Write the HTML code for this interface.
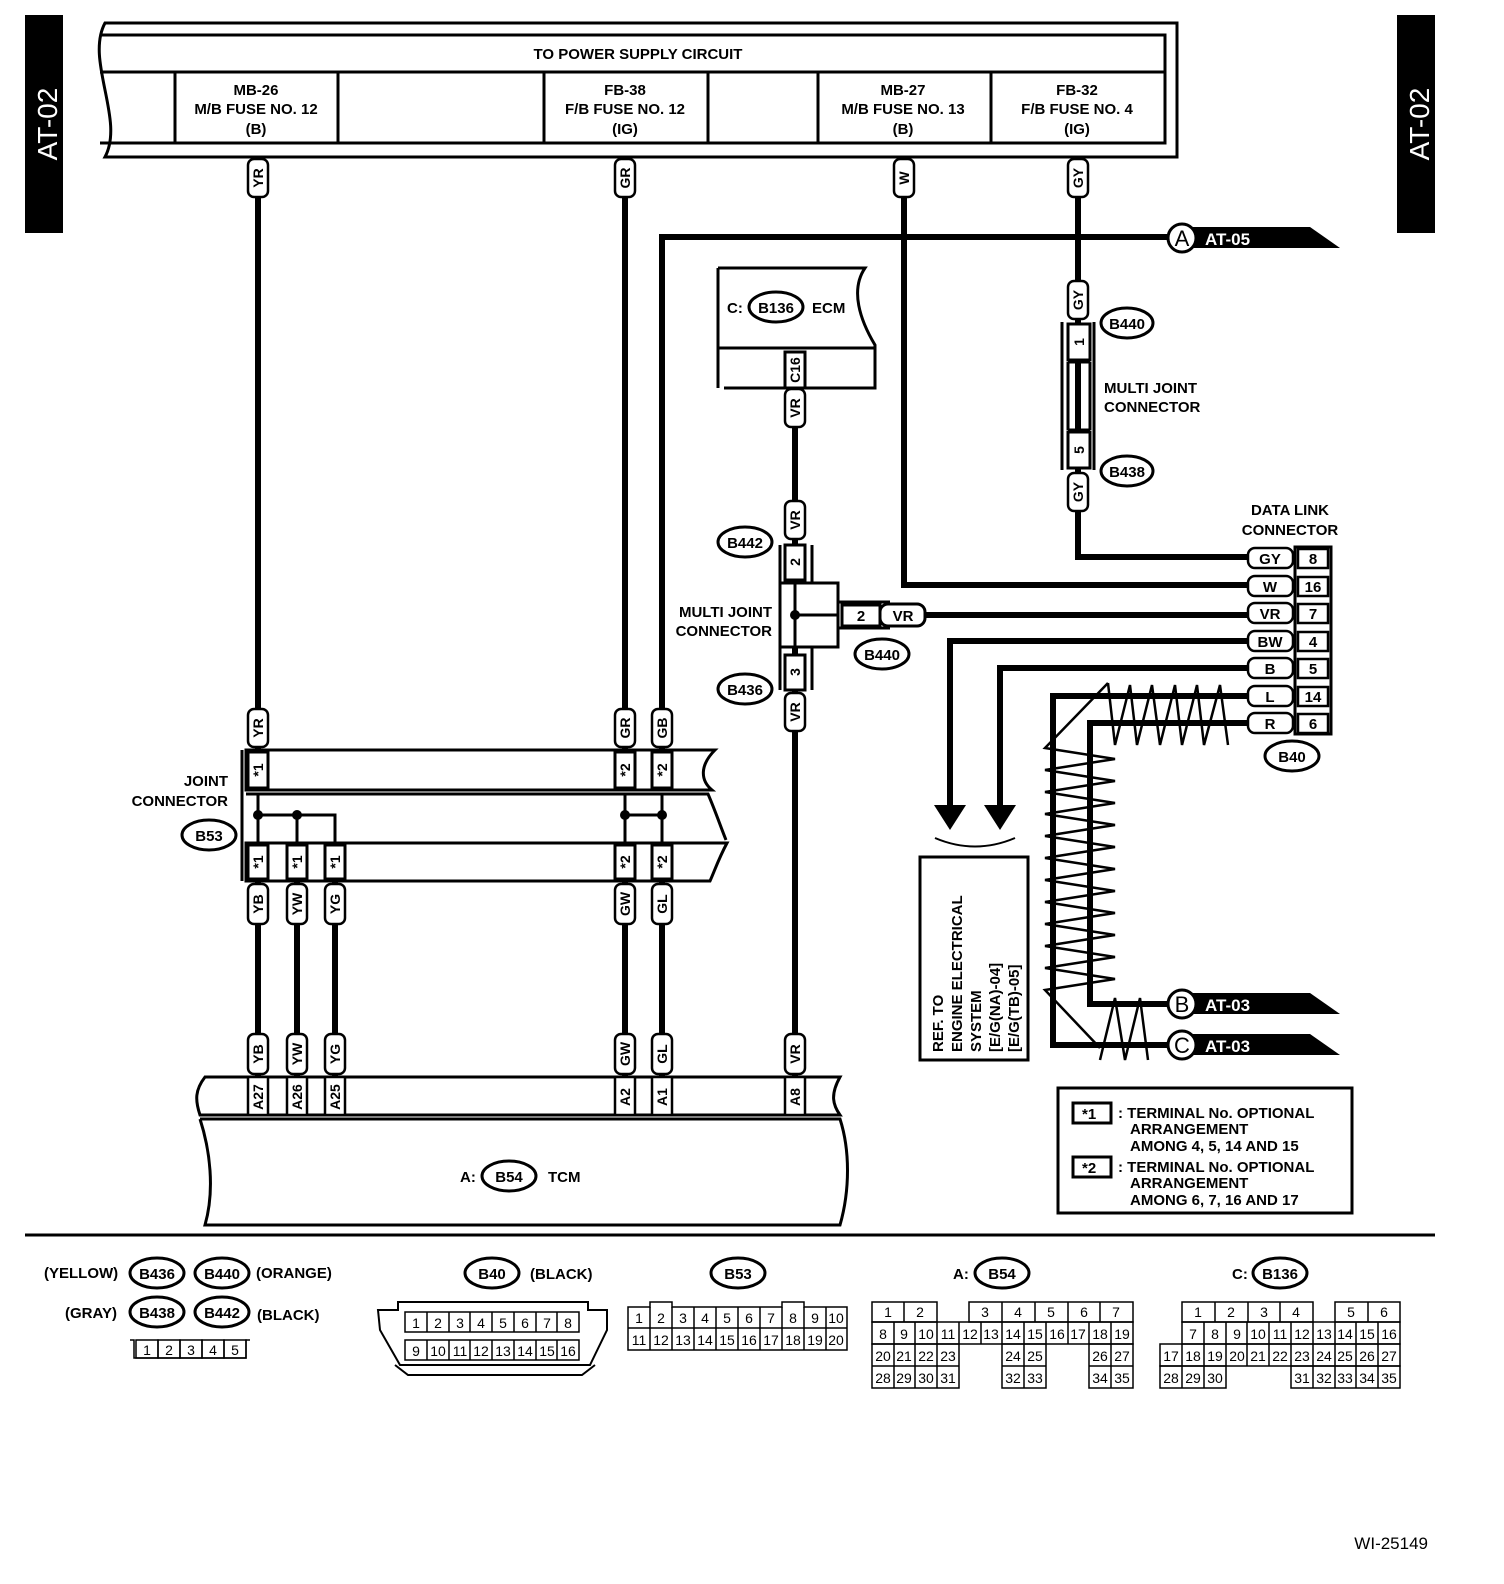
<!DOCTYPE html>
<html><head><meta charset="utf-8">
<style>
html,body{margin:0;padding:0;background:#fff;overflow:hidden;width:1504px;height:1584px;}
svg{display:block;font-family:"Liberation Sans",Arial,sans-serif;font-weight:bold;}
</style></head>
<body>
<svg width="1504" height="1584" viewBox="0 0 1504 1584" xmlns="http://www.w3.org/2000/svg">
<rect width="1504" height="1584" fill="#fff"/>

<!-- side tabs -->
<rect x="25" y="15" width="38" height="218" fill="#000"/>
<text transform="translate(57,124) rotate(-90)" text-anchor="middle" font-size="28" fill="#fff" font-weight="normal">AT-02</text>
<rect x="1397" y="15" width="38" height="218" fill="#000"/>
<text transform="translate(1429,124) rotate(-90)" text-anchor="middle" font-size="28" fill="#fff" font-weight="normal">AT-02</text>

<!-- power supply box -->
<g fill="none" stroke="#000" stroke-width="3">
<path d="M105,23 L1177,23 L1177,157 L105,157 C125,120 85,60 105,23 Z"/>
<path d="M100,35 L1165,35 L1165,143 L100,143"/>
<line x1="100" y1="72" x2="1165" y2="72"/>
<line x1="175" y1="72" x2="175" y2="143"/>
<line x1="338" y1="72" x2="338" y2="143"/>
<line x1="544" y1="72" x2="544" y2="143"/>
<line x1="708" y1="72" x2="708" y2="143"/>
<line x1="818" y1="72" x2="818" y2="143"/>
<line x1="991" y1="72" x2="991" y2="143"/>
</g>
<g font-size="15" text-anchor="middle">
<text x="638" y="59">TO POWER SUPPLY CIRCUIT</text>
<text x="256" y="95">MB-26</text><text x="256" y="114">M/B FUSE NO. 12</text><text x="256" y="134">(B)</text>
<text x="625" y="95">FB-38</text><text x="625" y="114">F/B FUSE NO. 12</text><text x="625" y="134">(IG)</text>
<text x="903" y="95">MB-27</text><text x="903" y="114">M/B FUSE NO. 13</text><text x="903" y="134">(B)</text>
<text x="1077" y="95">FB-32</text><text x="1077" y="114">F/B FUSE NO. 4</text><text x="1077" y="134">(IG)</text>
</g>

<!-- wires -->
<g stroke="#000" stroke-width="6" fill="none">
<line x1="258" y1="157" x2="258" y2="750"/>
<line x1="625" y1="157" x2="625" y2="750"/>
<polyline points="904,157 904,585 1250,585"/>
<polyline points="1078,157 1078,557 1250,557"/>
<polyline points="662,750 662,237 1170,237"/>
<line x1="795" y1="388" x2="795" y2="1080"/>
<line x1="925" y1="615" x2="1250" y2="615"/>
<polyline points="1250,641 950,641 950,810"/>
<polyline points="1250,668 1000,668 1000,810"/>
<polyline points="1250,696 1053,696 1053,1045 1170,1045"/>
<polyline points="1250,723 1090,723 1090,1004 1170,1004"/>
<line x1="258" y1="881" x2="258" y2="1080"/>
<line x1="297" y1="881" x2="297" y2="1080"/>
<line x1="335" y1="881" x2="335" y2="1080"/>
<line x1="625" y1="881" x2="625" y2="1080"/>
<line x1="662" y1="881" x2="662" y2="1080"/>
</g>

<!-- arrows to ref -->
<polygon points="934,805 966,805 950,830" fill="#000"/>
<polygon points="984,805 1016,805 1000,830" fill="#000"/>
<path d="M935,838 Q975,855 1015,838" fill="none" stroke="#000" stroke-width="2"/>

<!-- twist zigzags -->
<g fill="none" stroke="#000" stroke-width="2.5">
<polyline points="1108,683 1115,745 1130,685 1137,745 1152,685 1160,745 1175,685 1182,745 1197,685 1204,745 1220,685 1228,745"/>
<polyline points="1108,683 1045,748 1115,759 1045,770 1115,781 1045,792 1115,803 1045,814 1115,825 1045,836 1115,847 1045,858 1115,869 1045,880 1115,891 1045,902 1115,913 1045,924 1115,935 1045,946 1115,957 1045,968 1115,979 1045,990 1100,1048"/>
<polyline points="1100,1060 1115,998 1125,1060 1140,998 1148,1060"/>
</g>

<!-- offpage refs -->
<g>
<polygon points="1190,227 1310,227 1340,248 1190,248" fill="#000"/>
<circle cx="1182" cy="238" r="14" fill="#fff" stroke="#000" stroke-width="3"/>
<text x="1182" y="246" text-anchor="middle" font-size="22" font-weight="normal">A</text>
<text x="1205" y="245" font-size="17" fill="#fff">AT-05</text>
<polygon points="1190,993 1310,993 1340,1014 1190,1014" fill="#000"/>
<circle cx="1182" cy="1004" r="14" fill="#fff" stroke="#000" stroke-width="3"/>
<text x="1182" y="1012" text-anchor="middle" font-size="22" font-weight="normal">B</text>
<text x="1205" y="1011" font-size="17" fill="#fff">AT-03</text>
<polygon points="1190,1034 1310,1034 1340,1055 1190,1055" fill="#000"/>
<circle cx="1182" cy="1045" r="14" fill="#fff" stroke="#000" stroke-width="3"/>
<text x="1182" y="1053" text-anchor="middle" font-size="22" font-weight="normal">C</text>
<text x="1205" y="1052" font-size="17" fill="#fff">AT-03</text>
</g>

<!-- vertical wire labels -->
<g fill="#fff" stroke="#000" stroke-width="2.5">
<rect x="248" y="159" width="20" height="38" rx="6"/>
<rect x="615" y="159" width="20" height="38" rx="6"/>
<rect x="894" y="159" width="20" height="38" rx="6"/>
<rect x="1068" y="159" width="20" height="38" rx="6"/>
<rect x="1068" y="281" width="20" height="38" rx="6"/>
<rect x="1068" y="473" width="20" height="38" rx="6"/>
<rect x="785" y="389" width="20" height="38" rx="6"/>
<rect x="785" y="501" width="20" height="38" rx="6"/>
<rect x="785" y="693" width="20" height="38" rx="6"/>
<rect x="248" y="709" width="20" height="38" rx="6"/>
<rect x="615" y="709" width="20" height="38" rx="6"/>
<rect x="652" y="709" width="20" height="38" rx="6"/>
<rect x="248" y="884" width="20" height="40" rx="6"/>
<rect x="287" y="884" width="20" height="40" rx="6"/>
<rect x="325" y="884" width="20" height="40" rx="6"/>
<rect x="615" y="884" width="20" height="40" rx="6"/>
<rect x="652" y="884" width="20" height="40" rx="6"/>
<rect x="248" y="1034" width="20" height="40" rx="6"/>
<rect x="287" y="1034" width="20" height="40" rx="6"/>
<rect x="325" y="1034" width="20" height="40" rx="6"/>
<rect x="615" y="1034" width="20" height="40" rx="6"/>
<rect x="652" y="1034" width="20" height="40" rx="6"/>
<rect x="785" y="1034" width="20" height="40" rx="6"/>
</g>
<g font-size="14" text-anchor="middle">
<text transform="translate(263,178) rotate(-90)">YR</text>
<text transform="translate(630,178) rotate(-90)">GR</text>
<text transform="translate(909,178) rotate(-90)">W</text>
<text transform="translate(1083,178) rotate(-90)">GY</text>
<text transform="translate(1083,300) rotate(-90)">GY</text>
<text transform="translate(1083,492) rotate(-90)">GY</text>
<text transform="translate(800,408) rotate(-90)">VR</text>
<text transform="translate(800,520) rotate(-90)">VR</text>
<text transform="translate(800,712) rotate(-90)">VR</text>
<text transform="translate(263,728) rotate(-90)">YR</text>
<text transform="translate(630,728) rotate(-90)">GR</text>
<text transform="translate(667,728) rotate(-90)">GB</text>
<text transform="translate(263,904) rotate(-90)">YB</text>
<text transform="translate(302,904) rotate(-90)">YW</text>
<text transform="translate(340,904) rotate(-90)">YG</text>
<text transform="translate(630,904) rotate(-90)">GW</text>
<text transform="translate(667,904) rotate(-90)">GL</text>
<text transform="translate(263,1054) rotate(-90)">YB</text>
<text transform="translate(302,1054) rotate(-90)">YW</text>
<text transform="translate(340,1054) rotate(-90)">YG</text>
<text transform="translate(630,1054) rotate(-90)">GW</text>
<text transform="translate(667,1054) rotate(-90)">GL</text>
<text transform="translate(800,1054) rotate(-90)">VR</text>
</g>

<!-- ECM -->
<g fill="none" stroke="#000" stroke-width="3">
<path d="M718,268 L865,268 C850,290 860,320 875,345 L875,388 L724,388"/>
<line x1="718" y1="268" x2="718" y2="388"/>
<line x1="718" y1="348" x2="875" y2="348"/>
<rect x="785" y="352" width="20" height="36" fill="#fff"/>
</g>
<text x="727" y="313" font-size="15">C:</text>
<ellipse cx="776" cy="307" rx="27" ry="15" fill="#fff" stroke="#000" stroke-width="3"/>
<text x="776" y="313" font-size="15" text-anchor="middle">B136</text>
<text x="812" y="313" font-size="15">ECM</text>
<text transform="translate(800,370) rotate(-90)" font-size="14" text-anchor="middle">C16</text>

<!-- multi joint B440/B438 -->
<g fill="none" stroke="#000" stroke-width="3">
<line x1="1062" y1="322" x2="1062" y2="470"/>
<line x1="1094" y1="322" x2="1094" y2="470"/>
<line x1="1068" y1="362" x2="1090" y2="362"/>
<line x1="1068" y1="430" x2="1090" y2="430"/>
<rect x="1068" y="324" width="22" height="36" fill="#fff"/>
<rect x="1068" y="432" width="22" height="36" fill="#fff"/>
<line x1="1068" y1="362" x2="1068" y2="430"/>
<line x1="1090" y1="362" x2="1090" y2="430"/>
</g>
<text transform="translate(1084,342) rotate(-90)" font-size="14" text-anchor="middle">1</text>
<text transform="translate(1084,450) rotate(-90)" font-size="14" text-anchor="middle">5</text>
<ellipse cx="1127" cy="323" rx="26" ry="15" fill="#fff" stroke="#000" stroke-width="3"/>
<text x="1127" y="329" font-size="15" text-anchor="middle">B440</text>
<ellipse cx="1127" cy="471" rx="26" ry="15" fill="#fff" stroke="#000" stroke-width="3"/>
<text x="1127" y="477" font-size="15" text-anchor="middle">B438</text>
<text x="1104" y="393" font-size="15">MULTI JOINT</text>
<text x="1104" y="412" font-size="15">CONNECTOR</text>

<!-- multi joint B442/B436/B440 -->
<g fill="none" stroke="#000" stroke-width="3">
<line x1="780" y1="545" x2="780" y2="690"/>
<line x1="812" y1="545" x2="812" y2="583"/>
<line x1="812" y1="647" x2="812" y2="690"/>
<rect x="785" y="545" width="20" height="35" fill="#fff"/>
<rect x="785" y="655" width="20" height="35" fill="#fff"/>
<rect x="780" y="583" width="58" height="64" fill="#fff"/>
<line x1="795" y1="583" x2="795" y2="647"/>
<line x1="795" y1="615" x2="838" y2="615"/>
<line x1="838" y1="602" x2="890" y2="602"/>
<line x1="838" y1="628" x2="890" y2="628"/>
<rect x="842" y="605" width="38" height="21" fill="#fff"/>
<rect x="880" y="604" width="45" height="22" rx="8" fill="#fff"/>
</g>
<circle cx="795" cy="615" r="5" fill="#000"/>
<text transform="translate(800,562) rotate(-90)" font-size="14" text-anchor="middle">2</text>
<text transform="translate(800,672) rotate(-90)" font-size="14" text-anchor="middle">3</text>
<text x="861" y="621" font-size="15" text-anchor="middle">2</text>
<text x="903" y="621" font-size="15" text-anchor="middle">VR</text>
<ellipse cx="745" cy="542" rx="27" ry="15" fill="#fff" stroke="#000" stroke-width="3"/>
<text x="745" y="548" font-size="15" text-anchor="middle">B442</text>
<ellipse cx="745" cy="689" rx="27" ry="15" fill="#fff" stroke="#000" stroke-width="3"/>
<text x="745" y="695" font-size="15" text-anchor="middle">B436</text>
<ellipse cx="882" cy="654" rx="27" ry="15" fill="#fff" stroke="#000" stroke-width="3"/>
<text x="882" y="660" font-size="15" text-anchor="middle">B440</text>
<text x="772" y="617" font-size="15" text-anchor="end">MULTI JOINT</text>
<text x="772" y="636" font-size="15" text-anchor="end">CONNECTOR</text>

<!-- data link connector -->
<text x="1290" y="515" font-size="15" text-anchor="middle">DATA LINK</text>
<text x="1290" y="535" font-size="15" text-anchor="middle">CONNECTOR</text>
<rect x="1295" y="547" width="36" height="187" fill="#fff" stroke="#000" stroke-width="3"/>
<g fill="#fff" stroke="#000" stroke-width="2.5">
<rect x="1298" y="549" width="30" height="19"/><rect x="1298" y="577" width="30" height="19"/>
<rect x="1298" y="604" width="30" height="19"/><rect x="1298" y="632" width="30" height="19"/>
<rect x="1298" y="659" width="30" height="19"/><rect x="1298" y="687" width="30" height="19"/>
<rect x="1298" y="714" width="30" height="19"/>
<rect x="1248" y="548" width="45" height="20" rx="7"/><rect x="1248" y="576" width="45" height="20" rx="7"/>
<rect x="1248" y="603" width="45" height="20" rx="7"/><rect x="1248" y="631" width="45" height="20" rx="7"/>
<rect x="1248" y="658" width="45" height="20" rx="7"/><rect x="1248" y="686" width="45" height="20" rx="7"/>
<rect x="1248" y="713" width="45" height="20" rx="7"/>
</g>
<g font-size="15" text-anchor="middle">
<text x="1270" y="564">GY</text><text x="1313" y="564">8</text>
<text x="1270" y="592">W</text><text x="1313" y="592">16</text>
<text x="1270" y="619">VR</text><text x="1313" y="619">7</text>
<text x="1270" y="647">BW</text><text x="1313" y="647">4</text>
<text x="1270" y="674">B</text><text x="1313" y="674">5</text>
<text x="1270" y="702">L</text><text x="1313" y="702">14</text>
<text x="1270" y="729">R</text><text x="1313" y="729">6</text>
</g>
<ellipse cx="1292" cy="756" rx="27" ry="15" fill="#fff" stroke="#000" stroke-width="3"/>
<text x="1292" y="762" font-size="15" text-anchor="middle">B40</text>

<!-- ref box -->
<rect x="920" y="857" width="108" height="203" fill="#fff" stroke="#000" stroke-width="3"/>
<g font-size="15" transform="translate(943,1052) rotate(-90)">
<text x="0" y="0">REF. TO</text>
<text x="0" y="19">ENGINE ELECTRICAL</text>
<text x="0" y="38">SYSTEM</text>
<text x="0" y="57">[E/G(NA)-04]</text>
<text x="0" y="76">[E/G(TB)-05]</text>
</g>

<!-- joint connector B53 -->
<g fill="none" stroke="#000" stroke-width="3">
<line x1="242" y1="750" x2="242" y2="881"/>
<path d="M246,750 L715,750 C700,765 700,780 712,790 L246,790 Z"/>
<path d="M246,843 L727,843 C718,860 715,870 710,881 L246,881 Z"/>
<path d="M246,794 L708,794 C715,810 720,825 726,840"/>
<rect x="248" y="752" width="20" height="36" fill="#fff"/>
<rect x="615" y="752" width="20" height="36" fill="#fff"/>
<rect x="652" y="752" width="20" height="36" fill="#fff"/>
<rect x="248" y="845" width="20" height="34" fill="#fff"/>
<rect x="287" y="845" width="20" height="34" fill="#fff"/>
<rect x="325" y="845" width="20" height="34" fill="#fff"/>
<rect x="615" y="845" width="20" height="34" fill="#fff"/>
<rect x="652" y="845" width="20" height="34" fill="#fff"/>
<line x1="258" y1="794" x2="258" y2="843"/>
<line x1="297" y1="815" x2="297" y2="843"/>
<polyline points="258,815 335,815 335,843"/>
<line x1="625" y1="794" x2="625" y2="843"/>
<line x1="662" y1="794" x2="662" y2="843"/>
<line x1="625" y1="815" x2="662" y2="815"/>
</g>
<circle cx="258" cy="815" r="5" fill="#000"/><circle cx="297" cy="815" r="5" fill="#000"/>
<circle cx="625" cy="815" r="5" fill="#000"/><circle cx="662" cy="815" r="5" fill="#000"/>
<g font-size="14" text-anchor="middle">
<text transform="translate(263,770) rotate(-90)">*1</text>
<text transform="translate(630,770) rotate(-90)">*2</text>
<text transform="translate(667,770) rotate(-90)">*2</text>
<text transform="translate(263,862) rotate(-90)">*1</text>
<text transform="translate(302,862) rotate(-90)">*1</text>
<text transform="translate(340,862) rotate(-90)">*1</text>
<text transform="translate(630,862) rotate(-90)">*2</text>
<text transform="translate(667,862) rotate(-90)">*2</text>
</g>
<text x="228" y="786" font-size="15" text-anchor="end">JOINT</text>
<text x="228" y="806" font-size="15" text-anchor="end">CONNECTOR</text>
<ellipse cx="209" cy="835" rx="27" ry="15" fill="#fff" stroke="#000" stroke-width="3"/>
<text x="209" y="841" font-size="15" text-anchor="middle">B53</text>

<!-- TCM -->
<g fill="none" stroke="#000" stroke-width="3">
<path d="M205,1077 L840,1077 C830,1095 833,1105 840,1115 L200,1115 C195,1100 195,1090 205,1077 Z"/>
<path d="M200,1119 L840,1119 C850,1150 850,1190 840,1225 L205,1225 C215,1190 210,1150 200,1119"/>
</g>
<g fill="#fff" stroke="#000" stroke-width="2.5">
<rect x="248" y="1077" width="20" height="38"/><rect x="287" y="1077" width="20" height="38"/>
<rect x="325" y="1077" width="20" height="38"/><rect x="615" y="1077" width="20" height="38"/>
<rect x="652" y="1077" width="20" height="38"/><rect x="785" y="1077" width="20" height="38"/>
</g>
<g font-size="14" text-anchor="middle">
<text transform="translate(263,1097) rotate(-90)">A27</text>
<text transform="translate(302,1097) rotate(-90)">A26</text>
<text transform="translate(340,1097) rotate(-90)">A25</text>
<text transform="translate(630,1097) rotate(-90)">A2</text>
<text transform="translate(667,1097) rotate(-90)">A1</text>
<text transform="translate(800,1097) rotate(-90)">A8</text>
</g>
<text x="460" y="1182" font-size="15">A:</text>
<ellipse cx="509" cy="1176" rx="27" ry="15" fill="#fff" stroke="#000" stroke-width="3"/>
<text x="509" y="1182" font-size="15" text-anchor="middle">B54</text>
<text x="548" y="1182" font-size="15">TCM</text>

<!-- legend -->
<rect x="1058" y="1088" width="294" height="125" fill="#fff" stroke="#000" stroke-width="3"/>
<rect x="1073" y="1103" width="38" height="20" fill="#fff" stroke="#000" stroke-width="3"/>
<rect x="1073" y="1157" width="38" height="20" fill="#fff" stroke="#000" stroke-width="3"/>
<g font-size="15">
<text x="1082" y="1119">*1</text>
<text x="1082" y="1173">*2</text>
<text x="1118" y="1118">: TERMINAL No. OPTIONAL</text>
<text x="1130" y="1134">ARRANGEMENT</text>
<text x="1130" y="1151">AMONG 4, 5, 14 AND 15</text>
<text x="1118" y="1172">: TERMINAL No. OPTIONAL</text>
<text x="1130" y="1188">ARRANGEMENT</text>
<text x="1130" y="1205">AMONG 6, 7, 16 AND 17</text>
</g>

<line x1="25" y1="1235" x2="1435" y2="1235" stroke="#000" stroke-width="3"/>

<!-- bottom connector legends -->
<g font-size="15">
<text x="44" y="1278">(YELLOW)</text>
<text x="256" y="1278">(ORANGE)</text>
<text x="65" y="1318">(GRAY)</text>
<text x="257" y="1320">(BLACK)</text>
<text x="530" y="1279">(BLACK)</text>
<text x="953" y="1279">A:</text>
<text x="1232" y="1279">C:</text>
</g>
<g fill="#fff" stroke="#000" stroke-width="3">
<ellipse cx="157" cy="1273" rx="27" ry="15"/><ellipse cx="222" cy="1273" rx="27" ry="15"/>
<ellipse cx="157" cy="1312" rx="27" ry="15"/><ellipse cx="222" cy="1312" rx="27" ry="15"/>
<ellipse cx="492" cy="1273" rx="27" ry="15"/><ellipse cx="738" cy="1273" rx="27" ry="15"/>
<ellipse cx="1002" cy="1273" rx="27" ry="15"/><ellipse cx="1280" cy="1273" rx="27" ry="15"/>
</g>
<g font-size="15" text-anchor="middle">
<text x="157" y="1279">B436</text><text x="222" y="1279">B440</text>
<text x="157" y="1318">B438</text><text x="222" y="1318">B442</text>
<text x="492" y="1279">B40</text><text x="738" y="1279">B53</text>
<text x="1002" y="1279">B54</text><text x="1280" y="1279">B136</text>
</g>

<!-- small 5 pin -->
<g fill="none" stroke="#000" stroke-width="1.5">
<path d="M130,1340 L134,1340 L134,1358 L246,1358 L246,1340 L250,1340"/>
<rect x="136" y="1340" width="22" height="18"/><rect x="158" y="1340" width="22" height="18"/>
<rect x="180" y="1340" width="22" height="18"/><rect x="202" y="1340" width="22" height="18"/>
<rect x="224" y="1340" width="22" height="18"/>
</g>
<g font-size="14" font-weight="normal" text-anchor="middle">
<text x="147" y="1355">1</text><text x="169" y="1355">2</text><text x="191" y="1355">3</text><text x="213" y="1355">4</text><text x="235" y="1355">5</text>
</g>

<!-- B40 connector -->
<path d="M398,1302 L588,1302 L588,1310 L607,1310 L607,1330 L590,1365 L400,1365 L380,1330 L378,1310 L398,1310 Z" fill="none" stroke="#000" stroke-width="2"/>
<path d="M395,1365 L408,1375 L582,1375 L595,1365" fill="none" stroke="#000" stroke-width="2"/>
<g fill="none" stroke="#000" stroke-width="1.5">
<rect x="405" y="1312" width="174" height="20"/><rect x="405" y="1340" width="174" height="20"/>
<line x1="427" y1="1312" x2="427" y2="1332"/><line x1="449" y1="1312" x2="449" y2="1332"/><line x1="470" y1="1312" x2="470" y2="1332"/><line x1="492" y1="1312" x2="492" y2="1332"/><line x1="514" y1="1312" x2="514" y2="1332"/><line x1="536" y1="1312" x2="536" y2="1332"/><line x1="557" y1="1312" x2="557" y2="1332"/>
<line x1="427" y1="1340" x2="427" y2="1360"/><line x1="449" y1="1340" x2="449" y2="1360"/><line x1="470" y1="1340" x2="470" y2="1360"/><line x1="492" y1="1340" x2="492" y2="1360"/><line x1="514" y1="1340" x2="514" y2="1360"/><line x1="536" y1="1340" x2="536" y2="1360"/><line x1="557" y1="1340" x2="557" y2="1360"/>
</g>
<g font-size="14" font-weight="normal" text-anchor="middle">
<text x="416" y="1328">1</text><text x="438" y="1328">2</text><text x="460" y="1328">3</text><text x="481" y="1328">4</text><text x="503" y="1328">5</text><text x="525" y="1328">6</text><text x="547" y="1328">7</text><text x="568" y="1328">8</text>
<text x="416" y="1356">9</text><text x="438" y="1356">10</text><text x="460" y="1356">11</text><text x="481" y="1356">12</text><text x="503" y="1356">13</text><text x="525" y="1356">14</text><text x="547" y="1356">15</text><text x="568" y="1356">16</text>
</g>

<!-- B53 connector -->
<g fill="none" stroke="#000" stroke-width="1.5">
<path d="M628,1307 L650,1307 L650,1302 L672,1302 L672,1307 L782,1307 L782,1302 L804,1302 L804,1307 L847,1307 L847,1350 L628,1350 Z"/>
<line x1="628" y1="1328" x2="847" y2="1328"/>
<line x1="650" y1="1307" x2="650" y2="1350"/><line x1="672" y1="1307" x2="672" y2="1350"/><line x1="694" y1="1307" x2="694" y2="1350"/><line x1="716" y1="1307" x2="716" y2="1350"/><line x1="738" y1="1307" x2="738" y2="1350"/><line x1="760" y1="1307" x2="760" y2="1350"/><line x1="782" y1="1307" x2="782" y2="1350"/><line x1="804" y1="1307" x2="804" y2="1350"/><line x1="826" y1="1307" x2="826" y2="1350"/>
</g>
<g font-size="14" font-weight="normal" text-anchor="middle">
<text x="639" y="1323">1</text><text x="661" y="1323">2</text><text x="683" y="1323">3</text><text x="705" y="1323">4</text><text x="727" y="1323">5</text><text x="749" y="1323">6</text><text x="771" y="1323">7</text><text x="793" y="1323">8</text><text x="815" y="1323">9</text><text x="836" y="1323">10</text>
<text x="639" y="1345">11</text><text x="661" y="1345">12</text><text x="683" y="1345">13</text><text x="705" y="1345">14</text><text x="727" y="1345">15</text><text x="749" y="1345">16</text><text x="771" y="1345">17</text><text x="793" y="1345">18</text><text x="815" y="1345">19</text><text x="836" y="1345">20</text>
</g>

<!-- B54 connector -->
<g fill="none" stroke="#000" stroke-width="1.5">
<rect x="872" y="1302" width="65" height="20"/><line x1="904" y1="1302" x2="904" y2="1322"/>
<rect x="969" y="1302" width="164" height="20"/>
<line x1="1002" y1="1302" x2="1002" y2="1322"/><line x1="1035" y1="1302" x2="1035" y2="1322"/><line x1="1068" y1="1302" x2="1068" y2="1322"/><line x1="1100" y1="1302" x2="1100" y2="1322"/>
<rect x="872" y="1322" width="261" height="22"/>
<line x1="894" y1="1322" x2="894" y2="1344"/><line x1="915" y1="1322" x2="915" y2="1344"/><line x1="937" y1="1322" x2="937" y2="1344"/><line x1="959" y1="1322" x2="959" y2="1344"/><line x1="981" y1="1322" x2="981" y2="1344"/><line x1="1002" y1="1322" x2="1002" y2="1344"/><line x1="1024" y1="1322" x2="1024" y2="1344"/><line x1="1046" y1="1322" x2="1046" y2="1344"/><line x1="1068" y1="1322" x2="1068" y2="1344"/><line x1="1089" y1="1322" x2="1089" y2="1344"/><line x1="1111" y1="1322" x2="1111" y2="1344"/>
<rect x="872" y="1344" width="87" height="44"/><line x1="872" y1="1366" x2="959" y2="1366"/>
<line x1="894" y1="1344" x2="894" y2="1388"/><line x1="915" y1="1344" x2="915" y2="1388"/><line x1="937" y1="1344" x2="937" y2="1388"/>
<rect x="1002" y="1344" width="44" height="44"/><line x1="1002" y1="1366" x2="1046" y2="1366"/><line x1="1024" y1="1344" x2="1024" y2="1388"/>
<rect x="1089" y="1344" width="44" height="44"/><line x1="1089" y1="1366" x2="1133" y2="1366"/><line x1="1111" y1="1344" x2="1111" y2="1388"/>
</g>
<g font-size="14" font-weight="normal" text-anchor="middle">
<text x="888" y="1317">1</text><text x="920" y="1317">2</text><text x="985" y="1317">3</text><text x="1018" y="1317">4</text><text x="1051" y="1317">5</text><text x="1084" y="1317">6</text><text x="1116" y="1317">7</text>
<text x="883" y="1339">8</text><text x="904" y="1339">9</text><text x="926" y="1339">10</text><text x="948" y="1339">11</text><text x="970" y="1339">12</text><text x="991" y="1339">13</text><text x="1013" y="1339">14</text><text x="1035" y="1339">15</text><text x="1057" y="1339">16</text><text x="1078" y="1339">17</text><text x="1100" y="1339">18</text><text x="1122" y="1339">19</text>
<text x="883" y="1361">20</text><text x="904" y="1361">21</text><text x="926" y="1361">22</text><text x="948" y="1361">23</text><text x="1013" y="1361">24</text><text x="1035" y="1361">25</text><text x="1100" y="1361">26</text><text x="1122" y="1361">27</text>
<text x="883" y="1383">28</text><text x="904" y="1383">29</text><text x="926" y="1383">30</text><text x="948" y="1383">31</text><text x="1013" y="1383">32</text><text x="1035" y="1383">33</text><text x="1100" y="1383">34</text><text x="1122" y="1383">35</text>
</g>

<!-- B136 connector -->
<g fill="none" stroke="#000" stroke-width="1.5">
<rect x="1182" y="1302" width="131" height="20"/>
<line x1="1215" y1="1302" x2="1215" y2="1322"/><line x1="1248" y1="1302" x2="1248" y2="1322"/><line x1="1280" y1="1302" x2="1280" y2="1322"/>
<rect x="1335" y="1302" width="65" height="20"/><line x1="1368" y1="1302" x2="1368" y2="1322"/>
<rect x="1182" y="1322" width="218" height="22"/>
<rect x="1160" y="1344" width="240" height="22"/>
<line x1="1204" y1="1322" x2="1204" y2="1366"/><line x1="1226" y1="1322" x2="1226" y2="1366"/><line x1="1247" y1="1322" x2="1247" y2="1366"/><line x1="1269" y1="1322" x2="1269" y2="1366"/><line x1="1291" y1="1322" x2="1291" y2="1366"/><line x1="1313" y1="1322" x2="1313" y2="1366"/><line x1="1335" y1="1322" x2="1335" y2="1366"/><line x1="1356" y1="1322" x2="1356" y2="1366"/><line x1="1378" y1="1322" x2="1378" y2="1366"/><line x1="1182" y1="1344" x2="1182" y2="1366"/>
<rect x="1160" y="1366" width="66" height="22"/><line x1="1182" y1="1366" x2="1182" y2="1388"/><line x1="1204" y1="1366" x2="1204" y2="1388"/>
<rect x="1291" y="1366" width="109" height="22"/><line x1="1313" y1="1366" x2="1313" y2="1388"/><line x1="1335" y1="1366" x2="1335" y2="1388"/><line x1="1356" y1="1366" x2="1356" y2="1388"/><line x1="1378" y1="1366" x2="1378" y2="1388"/>
</g>
<g font-size="14" font-weight="normal" text-anchor="middle">
<text x="1198" y="1317">1</text><text x="1231" y="1317">2</text><text x="1264" y="1317">3</text><text x="1296" y="1317">4</text><text x="1351" y="1317">5</text><text x="1384" y="1317">6</text>
<text x="1193" y="1339">7</text><text x="1215" y="1339">8</text><text x="1237" y="1339">9</text><text x="1258" y="1339">10</text><text x="1280" y="1339">11</text><text x="1302" y="1339">12</text><text x="1324" y="1339">13</text><text x="1345" y="1339">14</text><text x="1367" y="1339">15</text><text x="1389" y="1339">16</text>
<text x="1171" y="1361">17</text><text x="1193" y="1361">18</text><text x="1215" y="1361">19</text><text x="1237" y="1361">20</text><text x="1258" y="1361">21</text><text x="1280" y="1361">22</text><text x="1302" y="1361">23</text><text x="1324" y="1361">24</text><text x="1345" y="1361">25</text><text x="1367" y="1361">26</text><text x="1389" y="1361">27</text>
<text x="1171" y="1383">28</text><text x="1193" y="1383">29</text><text x="1215" y="1383">30</text><text x="1302" y="1383">31</text><text x="1324" y="1383">32</text><text x="1345" y="1383">33</text><text x="1367" y="1383">34</text><text x="1389" y="1383">35</text>
</g>

<text x="1428" y="1549" font-size="17" font-weight="normal" text-anchor="end">WI-25149</text>
</svg>
</body></html>
